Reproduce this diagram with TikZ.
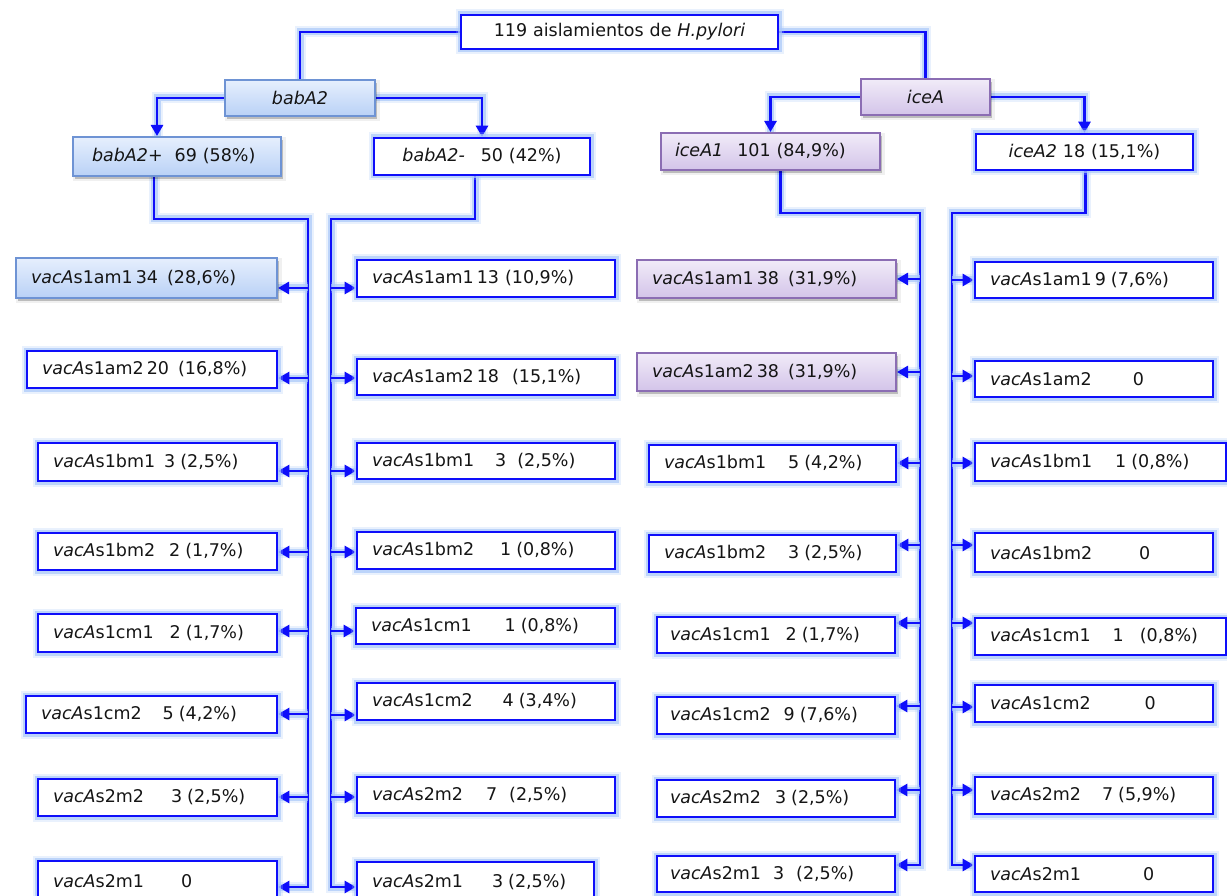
\documentclass[tikz,border=0pt]{standalone}
\usepackage{fontspec}
\setmainfont{DejaVu Sans}
\usetikzlibrary{arrows.meta}

\definecolor{lineblue}{HTML}{0E0EFA}
\definecolor{glowblue}{HTML}{A9C8FA}
\definecolor{bluetop}{HTML}{E6EFFD}
\definecolor{bluebot}{HTML}{B9D1F6}
\definecolor{blueedge}{HTML}{6E93D4}
\definecolor{purptop}{HTML}{F1EBF8}
\definecolor{purpbot}{HTML}{D3C4E9}
\definecolor{purpedge}{HTML}{8B6DB3}
\definecolor{inkgray}{HTML}{151515}

\pgfdeclarelayer{back}
\pgfdeclarelayer{wires}
\pgfsetlayers{back,wires,main}

% italic gene names and fixed gaps inside the labels
\newcommand\va{\textit{vacA}}
\newcommand\gp[1]{\hspace*{#1pt}}

% box from its corners (x1,y1)-(x2,y2), left padding #7
\newcommand\bx[8]{%
  \pgfmathsetmacro\bxw{#5-#3}%
  \pgfmathsetmacro\bxh{#6-#4}%
  \pgfmathsetmacro\bxt{#5-#3-2*#7}%
  \pgfmathsetmacro\bxcx{(#3+#5)/2}%
  \pgfmathsetmacro\bxcy{(#4+#6)/2}%
  \node[box, minimum width=\bxw pt, minimum height=\bxh pt,
        text width=\bxt pt, inner xsep=#7pt, #2] (#1) at (\bxcx,\bxcy) {#8};}

\tikzset{
  box/.style={rectangle, inner ysep=0pt, align=left, text=inkgray,
              font=\fontsize{17.5}{20}\selectfont},
  plainbox/.style={draw=lineblue, line width=2.6pt, fill=white,
              preaction={draw=glowblue, line width=11pt, opacity=0.25},
              preaction={draw=glowblue, line width=7pt, opacity=0.7}},
  softshadow/.style={
              preaction={fill=black, opacity=0.10, draw=black, line width=5pt, draw opacity=0.06,
                         transform canvas={xshift=2pt, yshift=-3pt}},
              preaction={fill=black, opacity=0.12,
                         transform canvas={xshift=2pt, yshift=-3pt}}},
  bluebox/.style={softshadow, draw=blueedge, line width=2pt, top color=bluetop, bottom color=bluebot},
  purpbox/.style={softshadow, draw=purpedge, line width=2pt, top color=purptop, bottom color=purpbot},
  conn/.style={draw=lineblue, line width=2.6pt,
              preaction={draw=glowblue, line width=11pt, opacity=0.25, arrows=-},
              preaction={draw=glowblue, line width=7pt, opacity=0.7, arrows=-}},
  tip/.style={-{Triangle[length=11pt,width=12pt]}}
}

\begin{document}
\begin{tikzpicture}[x=1pt,y=-1pt]
\useasboundingbox (0,0) rectangle (1227,896);
\begin{pgfonlayer}{back}
  \fill[white] (0,0) rectangle (1227,896);
\end{pgfonlayer}

% ---- upper levels ----
\bx{T}{plainbox, align=center}{461}{15}{778}{49}{15}{119 aislamientos de \textit{H.pylori}}
\bx{bab}{bluebox, align=center}{225}{80}{375}{116}{15}{\textit{babA2}}
\bx{ice}{purpbox, align=center}{861}{79}{990}{115}{15}{\textit{iceA}}
\bx{bp}{bluebox}{73}{137}{281}{176}{19}{\textit{babA2+}\gp{12}69 (58\%)}
\bx{bm}{plainbox, align=center}{374}{138}{590}{175}{12}{\textit{babA2-}\gp{16}50 (42\%)}
\bx{ia}{purpbox}{661}{133}{880}{170}{14}{\textit{iceA1}\gp{14}101 (84,9\%)}
\bx{ib}{plainbox, align=center}{976}{134}{1193}{170}{12}{\textit{iceA2} 18 (15,1\%)}

% ---- babA2+ ----
\bx{L1}{bluebox}{16}{258}{277}{298}{15}{\va s1am1\gp{3}34\gp{9}(28,6\%)}
\bx{L2}{plainbox}{27}{351}{277}{388}{15}{\va s1am2\gp{3}20\gp{9}(16,8\%)}
\bx{L3}{plainbox}{38}{443}{277}{481}{15}{\va s1bm1\gp{9}3\gp{5}(2,5\%)}
\bx{L4}{plainbox}{38}{533}{277}{570}{15}{\va s1bm2\gp{14}2\gp{5}(1,7\%)}
\bx{L5}{plainbox}{38}{614}{277}{652}{15}{\va s1cm1\gp{16}2\gp{5}(1,7\%)}
\bx{L6}{plainbox}{26}{696}{277}{733}{15}{\va s1cm2\gp{21}5\gp{5}(4,2\%)}
\bx{L7}{plainbox}{38}{779}{277}{816}{15}{\va s2m2\gp{27}3\gp{5}(2,5\%)}
\bx{L8}{plainbox}{38}{861}{277}{902}{15}{\va s2m1\gp{37}0}

% ---- babA2- ----
\bx{R1}{plainbox}{357}{260}{615}{297}{15}{\va s1am1\gp{3}13\gp{6}(10,9\%)}
\bx{R2}{plainbox}{357}{359}{615}{395}{15}{\va s1am2\gp{3}18\gp{13}(15,1\%)}
\bx{R3}{plainbox}{357}{443}{615}{479}{15}{\va s1bm1\gp{21}3\gp{11}(2,5\%)}
\bx{R4}{plainbox}{357}{532}{615}{569}{15}{\va s1bm2\gp{26}1\gp{5}(0,8\%)}
\bx{R5}{plainbox}{356}{608}{615}{644}{15}{\va s1cm1\gp{33}1\gp{5}(0,8\%)}
\bx{R6}{plainbox}{357}{683}{615}{720}{15}{\va s1cm2\gp{30}4\gp{5}(3,4\%)}
\bx{R7}{plainbox}{357}{777}{615}{813}{15}{\va s2m2\gp{23}7\gp{12}(2,5\%)}
\bx{R8}{plainbox}{357}{862}{594}{902}{15}{\va s2m1\gp{29}3\gp{5}(2,5\%)}

% ---- iceA1 ----
\bx{P1}{purpbox}{637}{260}{896}{298}{15}{\va s1am1\gp{3}38\gp{9}(31,9\%)}
\bx{P2}{purpbox}{637}{353}{896}{391}{15}{\va s1am2\gp{3}38\gp{9}(31,9\%)}
\bx{P3}{plainbox}{649}{445}{896}{482}{15}{\va s1bm1\gp{22}5\gp{5}(4,2\%)}
\bx{P4}{plainbox}{649}{535}{896}{572}{15}{\va s1bm2\gp{22}3\gp{5}(2,5\%)}
\bx{P5}{plainbox}{657}{617}{895}{653}{13}{\va s1cm1\gp{15}2\gp{5}(1,7\%)}
\bx{P6}{plainbox}{657}{697}{895}{734}{13}{\va s1cm2\gp{13}9\gp{5}(7,6\%)}
\bx{P7}{plainbox}{657}{780}{895}{817}{13}{\va s2m2\gp{14}3\gp{5}(2,5\%)}
\bx{P8}{plainbox}{657}{856}{895}{892}{13}{\va s2m1\gp{12}3\gp{12}(2,5\%)}

% ---- iceA2 ----
\bx{Q1}{plainbox}{975}{262}{1213}{298}{15}{\va s1am1\gp{3}9\gp{5}(7,6\%)}
\bx{Q2}{plainbox}{975}{361}{1213}{397}{15}{\va s1am2\gp{41}0}
\bx{Q3}{plainbox}{975}{443}{1226}{481}{15}{\va s1bm1\gp{23}1\gp{5}(0,8\%)}
\bx{Q4}{plainbox}{975}{533}{1213}{572}{15}{\va s1bm2\gp{47}0}
\bx{Q5}{plainbox}{975}{618}{1226}{655}{15}{\va s1cm1\gp{22}1\gp{16}(0,8\%)}
\bx{Q6}{plainbox}{975}{685}{1213}{722}{15}{\va s1cm2\gp{54}0}
\bx{Q7}{plainbox}{975}{777}{1213}{814}{15}{\va s2m2\gp{21}7\gp{5}(5,9\%)}
\bx{Q8}{plainbox}{975}{856}{1213}{892}{15}{\va s2m1\gp{62}0}

% ---- trunk corners ----
\coordinate (Lt) at (308,219);
\coordinate (Rt) at (331,219);
\coordinate (Pt) at (920,213);
\coordinate (Qt) at (952,213);

\begin{pgfonlayer}{wires}
  % root to the two genes
  \draw[conn] (T.west) -| (bab.north);
  \draw[conn] (T.east) -| (ice.north);
  % genes to their variants
  \draw[conn,tip] (bab.west) -| ([xshift=-20pt]bp.north);
  \draw[conn,tip] (bab.east) -| (bm.north);
  \draw[conn,tip] (ice.west) -| (ia.north);
  \draw[conn,tip] (ice.east) -| (ib.north);

  % variant trunks, ending in the last arrow of each column
  \draw[conn,tip] ([xshift=-23pt]bp.south) |- (Lt) -- (Lt |- 0,887) -- (L8.east |- 0,887);
  \draw[conn,tip] ([xshift=-7pt]bm.south) |- (Rt) -- (Rt |- 0,887) -- (R8.west |- 0,887);
  \draw[conn,tip] ([xshift=10pt]ia.south) |- (Pt) -- (Pt |- 0,865) -- (P8.east |- 0,865);
  \draw[conn,tip] ([xshift=1pt]ib.south) |- (Qt) -- (Qt |- 0,865) -- (Q8.west |- 0,865);

  % branch arrows
  \foreach \n/\y in {1/288,2/378,3/471,4/552,5/631,6/714,7/797}
    \draw[conn,tip] (Lt |- 0,\y) -- (L\n.east |- 0,\y);
  \foreach \n/\y in {1/288,2/378,3/471,4/552,5/631,6/715,7/797}
    \draw[conn,tip] (Rt |- 0,\y) -- (R\n.west |- 0,\y);
  \foreach \n/\y in {1/279,2/372,3/463,4/545,5/623,6/706,7/790}
    \draw[conn,tip] (Pt |- 0,\y) -- (P\n.east |- 0,\y);
  \foreach \n/\y in {1/280,2/376,3/463,4/545,5/623,6/707,7/790}
    \draw[conn,tip] (Qt |- 0,\y) -- (Q\n.west |- 0,\y);
\end{pgfonlayer}
\end{tikzpicture}
\end{document}
